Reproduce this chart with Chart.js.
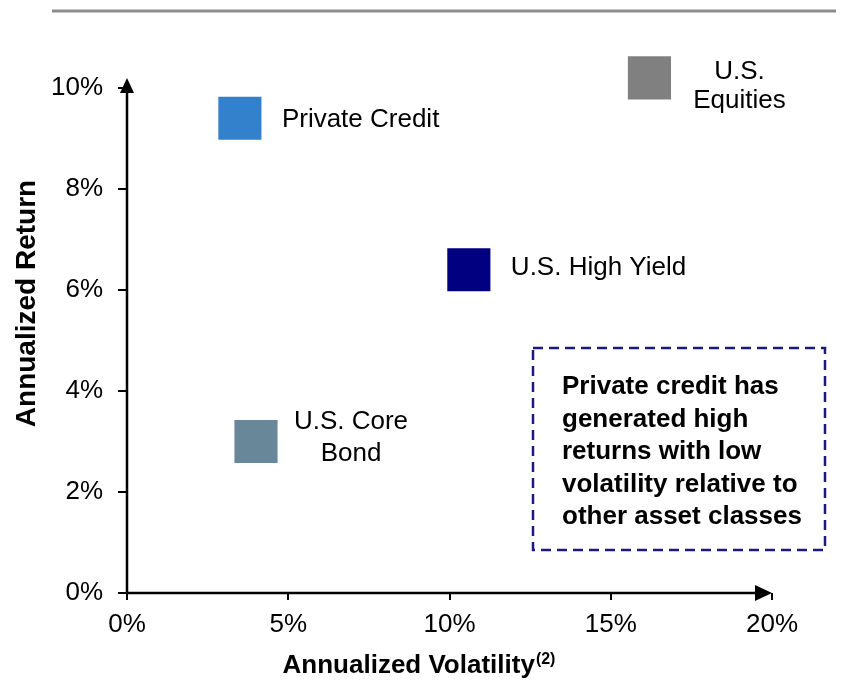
<!DOCTYPE html>
<html>
<head>
<meta charset="utf-8">
<script src="https://cdn.jsdelivr.net/npm/chart.js@4.4.1/dist/chart.umd.min.js"></script>
<style>
  html, body { margin: 0; padding: 0; background: #fff; }
  #wrap { width: 842px; height: 680px; }
</style>
</head>
<body>
<div id="wrap"><canvas id="riskChart" width="842" height="680"></canvas></div>
<script>
// asset classes and their risk / return (in %)
const assets = ["Private Credit", "U.S. Equities", "U.S. High Yield", "U.S. Core Bond"];
const volatility = [3.5, 16.2, 10.6, 4.0];
const annualReturn = [9.4, 10.2, 6.4, 3.0];
const assetColors = ["#3380cc", "#808080", "#000080", "#688799"];
const labelLines = [["Private Credit"], ["U.S.", "Equities"], ["U.S. High Yield"], ["U.S. Core", "Bond"]];

const xTickValues = [0, 5, 10, 15, 20];
const yTickValues = [0, 2, 4, 6, 8, 10];
const noteLines = [
  "Private credit has",
  "generated high",
  "returns with low",
  "volatility relative to",
  "other asset classes"
];

const FONT = "'Liberation Sans', Arial, sans-serif";

// where each point label sits, relative to its marker
const labelPlace = [
  { align: "left", dx: 42, dy: [2] },
  { align: "center", dx: 90, dy: [-6, 23] },
  { align: "left", dx: 42, dy: [-2] },
  { align: "center", dx: 95, dy: [-20, 12] }
];

const points = volatility.map((v, i) => ({ x: v, y: annualReturn[i] }));

const extras = {
  id: "extras",
  afterDatasetsDraw(chart) {
    const ctx = chart.ctx;
    const xs = chart.scales.x, ys = chart.scales.y;
    const area = chart.chartArea;
    const ox = xs.getPixelForValue(0), oy = ys.getPixelForValue(0);
    const tipX = xs.getPixelForValue(20), tipY = ys.getPixelForValue(10) - 10;

    ctx.save();
    // rule at the very top
    ctx.strokeStyle = "#8c8c8c";
    ctx.lineWidth = 3;
    ctx.beginPath();
    ctx.moveTo(52, 11);
    ctx.lineTo(836, 11);
    ctx.stroke();

    // axes with arrow heads
    ctx.strokeStyle = "#000";
    ctx.fillStyle = "#000";
    ctx.lineWidth = 2.5;
    ctx.beginPath();
    ctx.moveTo(ox, oy);
    ctx.lineTo(tipX - 8, oy);
    ctx.moveTo(ox, oy);
    ctx.lineTo(ox, tipY + 8);
    ctx.stroke();
    ctx.beginPath();
    ctx.moveTo(tipX, oy);
    ctx.lineTo(tipX - 17, oy - 8);
    ctx.lineTo(tipX - 17, oy + 8);
    ctx.closePath();
    ctx.fill();
    ctx.beginPath();
    ctx.moveTo(ox, tipY);
    ctx.lineTo(ox - 7, tipY + 15);
    ctx.lineTo(ox + 7, tipY + 15);
    ctx.closePath();
    ctx.fill();

    // point labels
    ctx.font = "26px " + FONT;
    ctx.textBaseline = "middle";
    ctx.fillStyle = "#000";
    assets.forEach((name, i) => {
      const px = xs.getPixelForValue(volatility[i]);
      const py = ys.getPixelForValue(annualReturn[i]);
      const p = labelPlace[i];
      ctx.textAlign = p.align;
      labelLines[i].forEach((line, j) => {
        ctx.fillText(line, px + p.dx, py + p.dy[j]);
      });
    });

    // axis titles
    ctx.font = "bold 28px " + FONT;
    ctx.textAlign = "center";
    ctx.save();
    ctx.translate(27, (area.top + area.bottom) / 2 - 37);
    ctx.rotate(-Math.PI / 2);
    ctx.fillText("Annualized Return", 0, 0);
    ctx.restore();

    const main = "Annualized Volatility";
    const sup = "(2)";
    ctx.font = "bold 26px " + FONT;
    const mainW = ctx.measureText(main).width;
    ctx.font = "bold 16px " + FONT;
    const supW = ctx.measureText(sup).width;
    const startX = (area.left + area.right) / 2 - 31 - (mainW + supW) / 2;
    const baseY = 673;
    ctx.textAlign = "left";
    ctx.textBaseline = "alphabetic";
    ctx.font = "bold 26px " + FONT;
    ctx.fillText(main, startX, baseY);
    ctx.font = "bold 16px " + FONT;
    ctx.fillText(sup, startX + mainW + 1, baseY - 9);

    // dashed call-out box
    ctx.strokeStyle = "#1a1a80";
    ctx.lineWidth = 2.5;
    ctx.setLineDash([10, 6]);
    ctx.strokeRect(533, 348, 292, 202);
    ctx.setLineDash([]);
    ctx.font = "bold 26px " + FONT;
    ctx.textBaseline = "middle";
    ctx.fillStyle = "#000";
    noteLines.forEach((line, i) => {
      ctx.fillText(line, 562, 387 + i * 32.5);
    });
    ctx.restore();
  }
};

const riskChart = new Chart("riskChart", {
  type: "scatter",
  data: {
    datasets: [{
      label: "Assets",
      data: points,
      pointStyle: "rect",
      pointRadius: 30.5,
      pointHoverRadius: 30.5,
      pointBackgroundColor: assetColors,
      pointBorderColor: assetColors,
      pointBorderWidth: 0,
      clip: false
    }]
  },
  options: {
    responsive: false,
    animation: false,
    events: [],
    layout: { padding: { left: 0, top: 88, right: 70, bottom: 0 } },
    plugins: {
      legend: { display: false },
      tooltip: { enabled: false },
      title: { display: false }
    },
    scales: {
      x: {
        type: "linear",
        min: 0,
        max: 20,
        afterBuildTicks: s => { s.ticks = xTickValues.map(v => ({ value: v })); },
        afterFit: s => { s.height = 87; },
        border: { display: false },
        grid: { drawOnChartArea: false, drawTicks: true, tickLength: 7, color: "#000", lineWidth: 2 },
        ticks: {
          padding: 9,
          color: "#000",
          font: { family: FONT, size: 26 },
          callback: v => v + "%"
        }
      },
      y: {
        type: "linear",
        min: 0,
        max: 10,
        afterBuildTicks: s => { s.ticks = yTickValues.map(v => ({ value: v })); },
        afterFit: s => { s.width = 127; },
        border: { display: false },
        grid: { drawOnChartArea: false, drawTicks: true, tickLength: 9, color: "#000", lineWidth: 2 },
        ticks: {
          padding: 15,
          color: "#000",
          font: { family: FONT, size: 26 },
          callback: v => v + "%"
        }
      }
    }
  },
  plugins: [extras]
});
</script>
</body>
</html>
